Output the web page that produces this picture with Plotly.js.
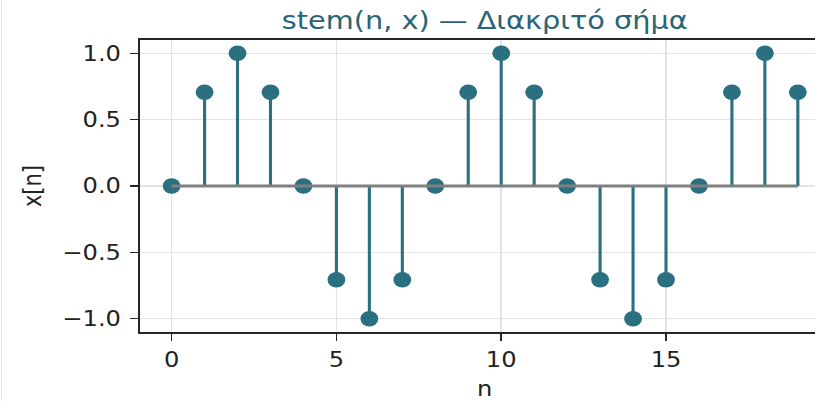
<!DOCTYPE html>
<html>
<head>
<meta charset="utf-8">
<script src="https://cdn.plot.ly/plotly-3.0.1.min.js"></script>
<style>
  html, body { margin: 0; padding: 0; overflow: hidden; width: 815px; height: 401px; background: #fff; }
  #wrap { position: relative; width: 815px; height: 401px; overflow: hidden; }
  #plot { position: absolute; left: 0; top: 0; transform: scaleX(1.15); transform-origin: 0 0; }
  #edge { position: absolute; left: 1px; top: 0; width: 1px; height: 401px; background: #e4e4e4; }
</style>
</head>
<body>
<div id="wrap"><div id="plot"></div><div id="edge"></div></div>
<script>
// Data
const nValues = [0, 1, 2, 3, 4, 5, 6, 7, 8, 9, 10, 11, 12, 13, 14, 15, 16, 17, 18, 19];
const xValues = [0, 0.707, 1, 0.707, 0, -0.707, -1, -0.707, 0, 0.707, 1, 0.707, 0, -0.707, -1, -0.707, 0, 0.707, 1, 0.707];
const xTicks = [0, 5, 10, 15];
const yTicks = [-1.0, -0.5, 0.0, 0.5, 1.0];
const yTickText = ['\u22121.0', '\u22120.5', '0.0', '0.5', '1.0'];
const titleText = 'stem(n, x) — Διακριτό σήμα';

const stemColor = '#2a7080';
const font = 'DejaVu Sans, sans-serif';

const stemX = [], stemY = [];
nValues.forEach((n, i) => { stemX.push(n, n, null); stemY.push(0, xValues[i], null); });

const traces = [
  { x: stemX, y: stemY, mode: 'lines', line: { color: stemColor, width: 2.7 }, hoverinfo: 'skip', showlegend: false },
  { x: nValues, y: xValues, mode: 'markers', marker: { color: stemColor, size: 15.5, line: { width: 0 } }, showlegend: false },
  { x: [nValues[0], nValues[nValues.length - 1]], y: [0, 0], mode: 'lines', line: { color: '#808080', width: 3 }, hoverinfo: 'skip', showlegend: false }
];

const layout = {
  width: 722, height: 401,
  margin: { l: 122, r: 1, t: 40, b: 69 },
  paper_bgcolor: '#ffffff', plot_bgcolor: '#ffffff',
  font: { family: font, size: 21, color: '#222222' },
  title: { text: titleText, font: { family: font, size: 25, color: '#2a6575' }, x: 0.5, xref: 'paper', xanchor: 'center', y: 0.949, yref: 'container', yanchor: 'middle' },
  xaxis: {
    range: [-0.95, 19.95], tickvals: xTicks, ticktext: xTicks.map(String),
    showline: true, mirror: true, linecolor: '#262626', linewidth: 1.8,
    ticks: 'outside', ticklen: 7, tickwidth: 1.4, tickcolor: '#262626',
    showgrid: true, gridcolor: '#e4e4e4', gridwidth: 1.4, zeroline: false,
    tickfont: { family: font, size: 21, color: '#222222' }, ticklabelstandoff: 1,
    title: { text: 'n', font: { family: font, size: 21, color: '#222222' }, standoff: 18 }
  },
  yaxis: {
    range: [-1.1, 1.1], tickvals: yTicks, ticktext: yTickText,
    showline: true, mirror: true, linecolor: '#262626', linewidth: 1.6,
    ticks: 'outside', ticklen: 7, tickwidth: 1.5, tickcolor: '#262626',
    showgrid: true, gridcolor: '#e4e4e4', gridwidth: 1.3, zeroline: false,
    tickfont: { family: font, size: 21, color: '#222222' }, ticklabelstandoff: 4,
    title: { text: 'x[n]', font: { family: font, size: 21, color: '#222222' }, standoff: 12 }
  }
};

Plotly.newPlot('plot', traces, layout, { displayModeBar: false, staticPlot: true });
</script>
</body>
</html>
